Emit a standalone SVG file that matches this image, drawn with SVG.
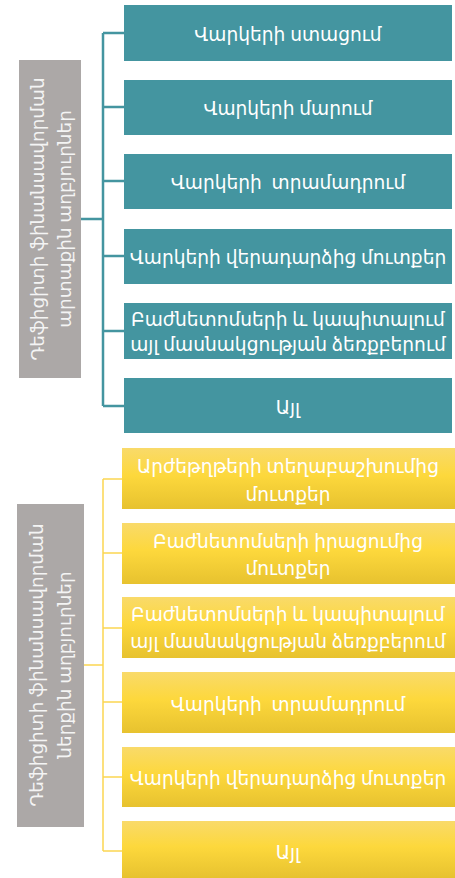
<svg xmlns="http://www.w3.org/2000/svg" width="455" height="878" viewBox="0 0 455 878">
<defs>
<linearGradient id="yg" x1="0" y1="0" x2="0" y2="1">
<stop offset="0" stop-color="#f9da6a"/>
<stop offset="0.45" stop-color="#fdd83c"/>
<stop offset="1" stop-color="#e7c22f"/>
</linearGradient>
<style>
.teal{fill:#4495a0;}
.yel{fill:url(#yg);}
.gray{fill:#aca8a7;}
.t{font-family:"Noto Sans","DejaVu Sans",sans-serif;font-size:18.6px;fill:#ffffff;text-anchor:middle;dominant-baseline:central;}
.g{font-family:"Noto Sans","DejaVu Sans",sans-serif;font-size:18.4px;fill:#f4f4f4;text-anchor:middle;dominant-baseline:central;}
.ct{stroke:#4495a0;stroke-width:2.5;fill:none;}
.cy{stroke:#fbd651;stroke-width:1.5;fill:none;}
</style>
</defs>
<rect width="455" height="878" fill="#ffffff"/>
<g id="connectors">
<path class="ct" d="M103,33 V406 M103,33 H124 M103,107 H124 M103,181 H124 M103,256 H124 M103,331 H124 M103,406 H124 M81,219 H103"/>
<path class="cy" d="M103,479 V851 M103,479 H122 M103,553 H122 M103,628 H122 M103,702 H122 M103,777 H122 M103,851 H122 M84,665 H103"/>
</g>
<g id="ext">
<rect class="gray" x="19" y="60" width="62" height="318"/>
<text class="g" transform="translate(49,219) rotate(-90)"><tspan x="0" y="-13.5">Դեֆիցիտի ֆինանսավորման</tspan><tspan x="0" y="13.5">արտաքին աղբյուրներ</tspan></text>
</g>
<g id="t1"><rect class="teal" x="124" y="5" width="328" height="56"/><text class="t" x="288" y="33">Վարկերի ստացում</text></g>
<g id="t2"><rect class="teal" x="124" y="80" width="328" height="55"/><text class="t" x="288" y="107">Վարկերի մարում</text></g>
<g id="t3"><rect class="teal" x="124" y="154" width="328" height="55"/><text class="t" x="288" y="181" xml:space="preserve">Վարկերի  տրամադրում</text></g>
<g id="t4"><rect class="teal" x="124" y="229" width="328" height="55"/><text class="t" x="288" y="256">Վարկերի վերադարձից մուտքեր</text></g>
<g id="t5"><rect class="teal" x="124" y="303" width="328" height="56"/><text class="t"><tspan x="288" y="318">Բաժնետոմսերի և կապիտալում</tspan><tspan x="288" y="343">այլ մասնակցության ձեռքբերում</tspan></text></g>
<g id="t6"><rect class="teal" x="124" y="378" width="328" height="55"/><text class="t" x="288" y="406">Այլ</text></g>
<g id="int">
<rect class="gray" x="17" y="504" width="67" height="323"/>
<text class="g" transform="translate(49,665) rotate(-90)"><tspan x="0" y="-14">Դեֆիցիտի ֆինանսավորման</tspan><tspan x="0" y="14">ներքին աղբյուրներ</tspan></text>
</g>
<g id="y1"><rect class="yel" x="122" y="448" width="333" height="61"/><text class="t"><tspan x="288" y="465">Արժեթղթերի տեղաբաշխումից</tspan><tspan x="288" y="493">մուտքեր</tspan></text></g>
<g id="y2"><rect class="yel" x="122" y="523" width="333" height="61"/><text class="t"><tspan x="288" y="540">Բաժնետոմսերի իրացումից</tspan><tspan x="288" y="567">մուտքեր</tspan></text></g>
<g id="y3"><rect class="yel" x="122" y="597" width="333" height="61"/><text class="t"><tspan x="288" y="613">Բաժնետոմսերի և կապիտալում</tspan><tspan x="288" y="640">այլ մասնակցության ձեռքբերում</tspan></text></g>
<g id="y4"><rect class="yel" x="122" y="672" width="333" height="61"/><text class="t" x="288" y="703" xml:space="preserve">Վարկերի  տրամադրում</text></g>
<g id="y5"><rect class="yel" x="122" y="747" width="333" height="60"/><text class="t" x="288" y="777">Վարկերի վերադարձից մուտքեր</text></g>
<g id="y6"><rect class="yel" x="122" y="821" width="333" height="57"/><text class="t" x="288" y="851">Այլ</text></g>
</svg>
